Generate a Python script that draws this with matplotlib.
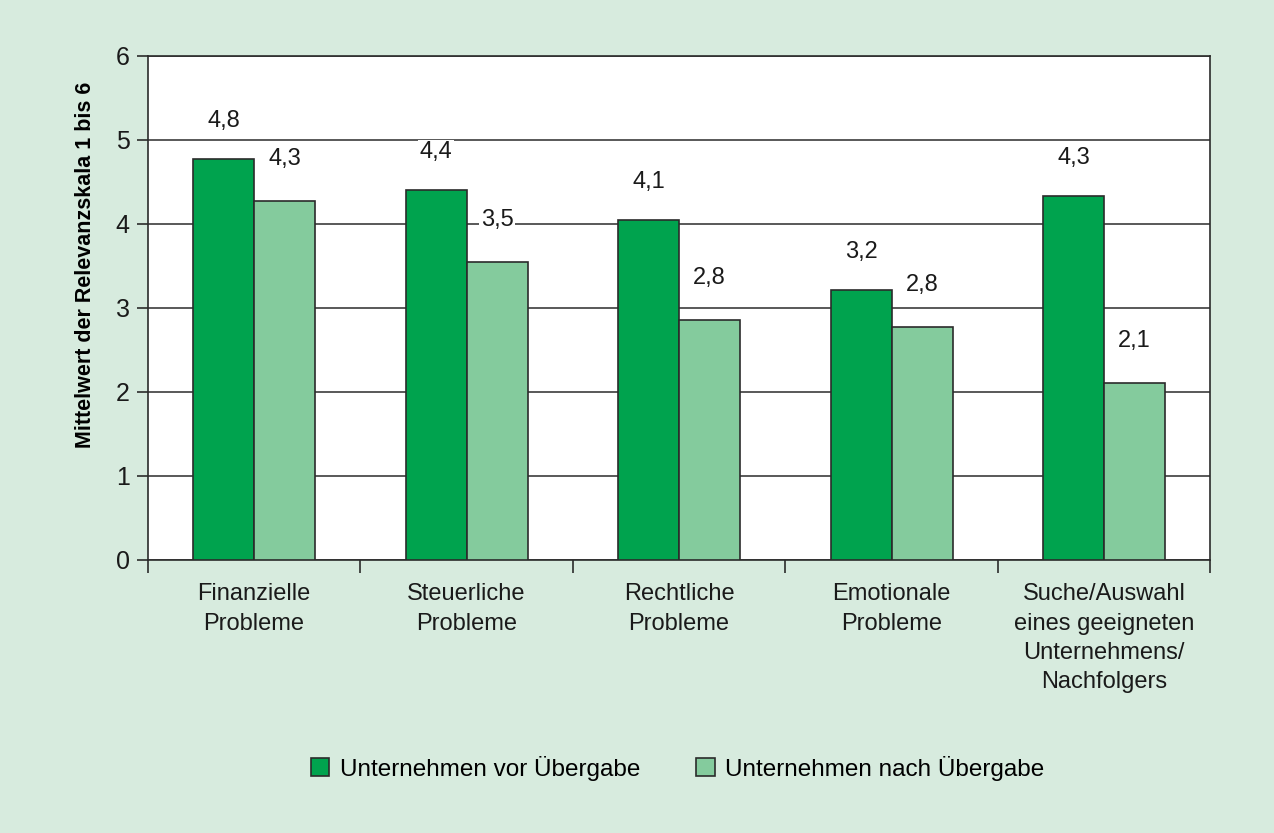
import numpy as np
import matplotlib.pyplot as plt

plt.rcParams['font.family'] = ['Liberation Sans', 'DejaVu Sans']

categories = ['Finanzielle\nProbleme', 'Steuerliche\nProbleme', 'Rechtliche\nProbleme',
              'Emotionale\nProbleme', 'Suche/Auswahl\neines geeigneten\nUnternehmens/\nNachfolgers']
vor = [4.77, 4.40, 4.05, 3.21, 4.33]
nach = [4.27, 3.55, 2.85, 2.77, 2.11]
vor_labels = ['4,8', '4,4', '4,1', '3,2', '4,3']
nach_labels = ['4,3', '3,5', '2,8', '2,8', '2,1']
series_names = ['Unternehmen vor Übergabe', 'Unternehmen nach Übergabe']

bg = '#d7ebde'
dark = '#00a34e'
light = '#84cb9d'
edge = '#2b2b2b'
txt = '#1a1a1a'
fs = 17

fig = plt.figure(figsize=(12.74, 8.33), dpi=100, facecolor=bg)
ax = fig.add_axes([0.116, 0.328, 0.834, 0.605])
ax.set_facecolor('white')

x = np.arange(len(categories))
w = 0.287
b1 = ax.bar(x - w / 2, vor, w, color=dark, edgecolor=edge, linewidth=1.2, zorder=3, label=series_names[0])
b2 = ax.bar(x + w / 2, nach, w, color=light, edgecolor=edge, linewidth=1.2, zorder=3, label=series_names[1])

for xi, v, t in zip(x - w / 2, vor, vor_labels):
    ax.text(xi, v + 0.45, t, ha='center', va='center', fontsize=fs, color=txt,
            bbox=dict(facecolor='white', edgecolor='none', pad=1), zorder=4)
for xi, v, t in zip(x + w / 2, nach, nach_labels):
    ax.text(xi, v + 0.5, t, ha='center', va='center', fontsize=fs, color=txt,
            bbox=dict(facecolor='white', edgecolor='none', pad=1), zorder=4)

ax.set_xlim(-0.5, len(categories) - 0.5)
ax.set_ylim(0, 6)
ax.set_yticks(range(7))
ax.yaxis.grid(True, color=edge, linewidth=1.1, zorder=1)
ax.set_axisbelow(True)

# category labels centred, tick marks between groups
ax.set_xticks(x)
ax.set_xticklabels(categories, fontsize=fs, color=txt, linespacing=1.42)
ax.tick_params(axis='x', length=0, pad=17)
ax.set_xticks(np.arange(-0.5, len(categories)), minor=True)
ax.tick_params(axis='x', which='minor', length=9, width=1.2, color=edge, direction='out')
ax.tick_params(axis='y', length=8, width=1.2, color=edge, labelsize=fs + 1, labelcolor=txt, pad=5)

for s in ax.spines.values():
    s.set_color(edge)
    s.set_linewidth(1.2)

ax.set_ylabel('Mittelwert der Relevanzskala 1 bis 6', fontsize=15.5, fontweight='bold')
ax.yaxis.set_label_coords(-0.049, 0.585)

fig.legend(handles=[b1, b2], labels=series_names, loc='center', bbox_to_anchor=(0.532, 0.078),
           ncol=2, frameon=False, fontsize=17.5, handlelength=0.75, handleheight=0.75,
           handletextpad=0.45, columnspacing=2.3)

fig.savefig('out.png', dpi=100, facecolor=bg)
